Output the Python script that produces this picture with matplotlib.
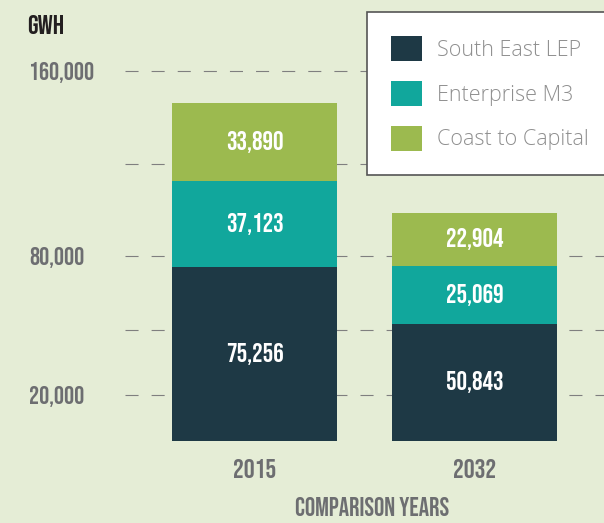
import matplotlib
matplotlib.use("Agg")
import matplotlib.pyplot as plt
from matplotlib import font_manager
from matplotlib.patches import Patch

years = ["2015", "2032"]
series = ["South East LEP", "Enterprise M3", "Coast to Capital"]
south_east = [75256, 50843]
enterprise_m3 = [37123, 25069]
coast_capital = [33890, 22904]
grid_ticks = [20000, 48000, 80000, 120000, 160000]
grid_labels = ["20,000", "", "80,000", "", "160,000"]

colors = ["#1e3945", "#11a79c", "#9cba4f"]
bg = "#e5edd6"
grey_txt = "#6d6e71"

installed = {f.name for f in font_manager.fontManager.ttflist}


def pick(cands):
    for c in cands:
        if c in installed:
            return c
    return "DejaVu Sans"


cond = pick(["Bebas Neue", "Roboto Condensed", "Liberation Sans Narrow",
             "DejaVu Sans Condensed", "DejaVu Sans"])
light = pick(["Open Sans Light", "Open Sans", "Lato", "DejaVu Sans"])

plt.rcParams["lines.scale_dashes"] = False

fig = plt.figure(figsize=(6.04, 5.23), dpi=100, facecolor=bg)
ax = fig.add_axes([125 / 604, (523 - 441) / 523, 479 / 604, 441 / 523])
ax.set_facecolor(bg)

x = [0, 1]
bottom = [0, 0]
for vals, col, name in zip([south_east, enterprise_m3, coast_capital], colors, series):
    bars = ax.bar(x, vals, width=0.75, bottom=bottom, color=col, label=name, zorder=2)
    ax.bar_label(bars, labels=[f"{v:,}" for v in vals], label_type="center",
                 color="white", fontsize=19, fontweight="bold", family=cond)
    bottom = [b + v for b, v in zip(bottom, vals)]

ax.set_xlim(-0.589, 1.589)
ax.set_ylim(0, 441 / 2.31 * 1000)

ax.set_yticks(grid_ticks, grid_labels)
for lab in ax.get_yticklabels():
    lab.set_horizontalalignment("left")
    lab.set_family(cond)
    lab.set_fontweight("bold")
ax.tick_params(axis="y", length=0, pad=69, labelsize=18, labelcolor=grey_txt)
ax.yaxis.grid(True, color="#7f7f7f", linewidth=0.8, linestyle=(0, (9.4, 9.4)), zorder=0)
ax.set_axisbelow(True)

ax.set_xticks(x, years)
for lab in ax.get_xticklabels():
    lab.set_family(cond)
    lab.set_fontweight("bold")
ax.tick_params(axis="x", length=0, pad=13, labelsize=19.5, labelcolor=grey_txt)

for s in ax.spines.values():
    s.set_visible(False)

ax.set_xlabel("COMPARISON YEARS", fontsize=18.5, fontweight="bold", family=cond,
              color=grey_txt, va="center")
ax.xaxis.set_label_coords((372 - 125) / 479, (441 - 507) / 441)

fig.text(27 / 604, 1 - 25 / 523, "GWH", fontsize=19.5, fontweight="bold", family=cond,
         color="#231f20", va="center", ha="left")

handles = [Patch(facecolor=c, edgecolor="none") for c in colors]
leg = ax.legend(handles, series, loc="upper left",
                bbox_to_anchor=(367 / 604, 1 - 12 / 523), bbox_transform=fig.transFigure,
                prop={"family": light, "size": 15.5, "weight": "light"}, labelcolor="#8f8f8f",
                frameon=True, fancybox=False, framealpha=1, facecolor="white",
                edgecolor="#555555", borderpad=1.1, handlelength=1.45, handleheight=1.45,
                handletextpad=0.7, labelspacing=0.9, borderaxespad=0)
leg.get_frame().set_linewidth(1.2)
leg.set_zorder(5)

fig.savefig("out.png", dpi=100, facecolor=bg)
